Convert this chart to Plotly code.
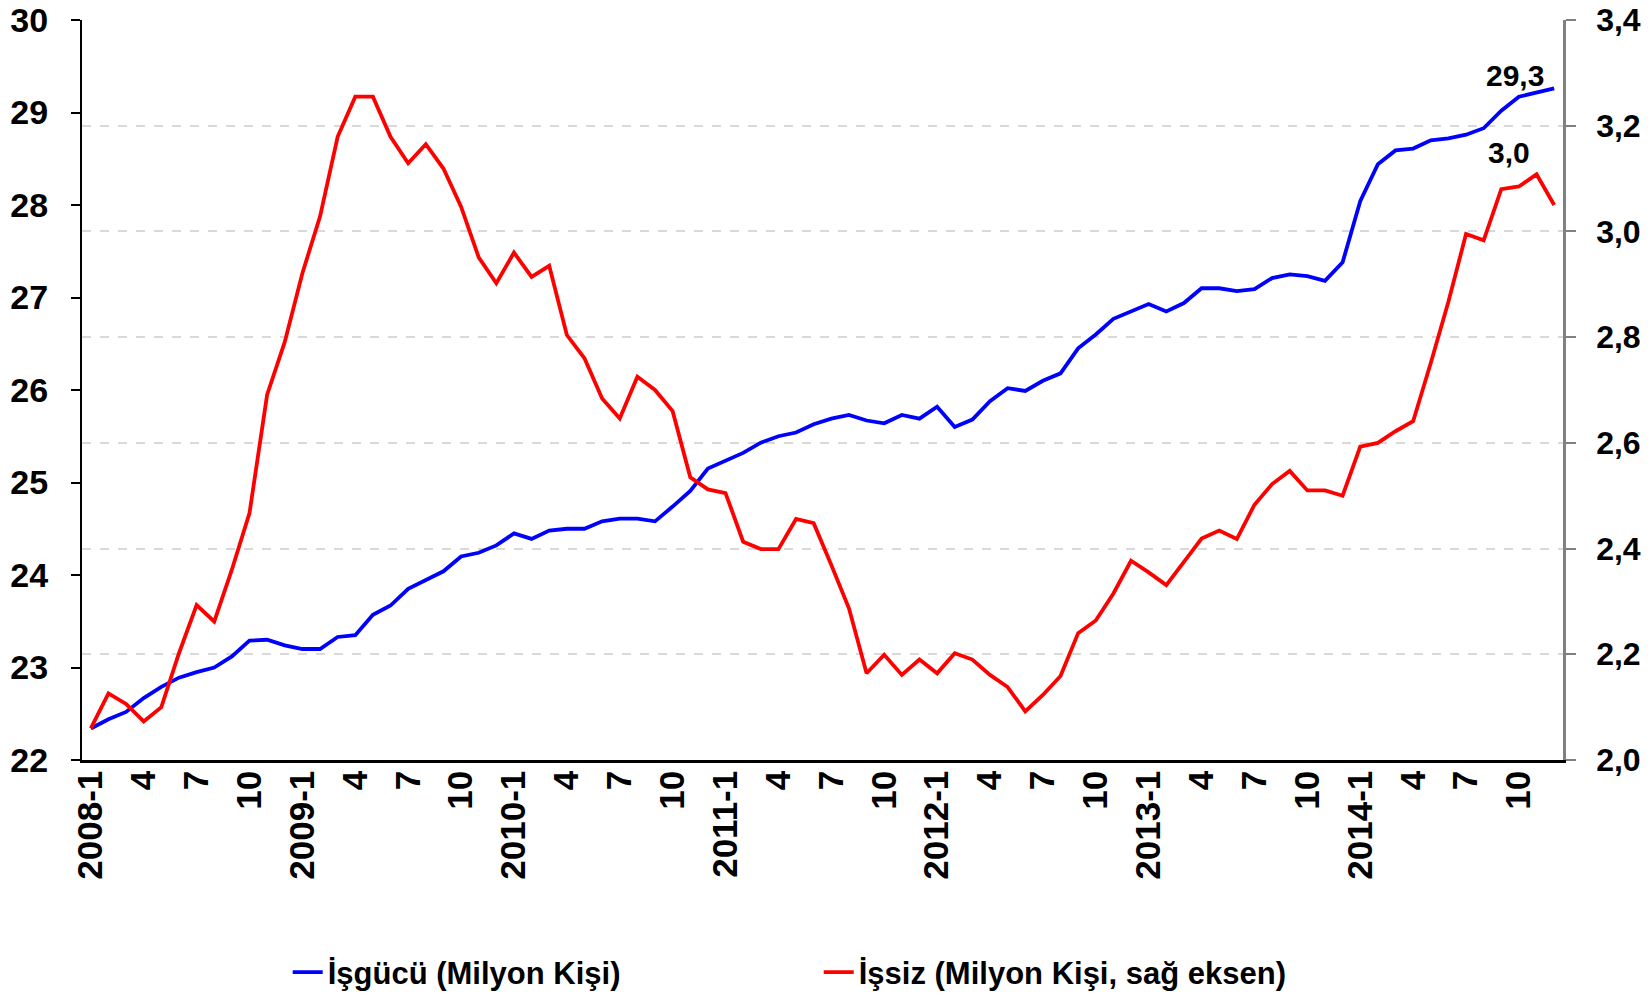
import plotly.graph_objects as go

# 2008-1 .. 2014-12, monthly
months = [f"{y}-{m}" for y in range(2008, 2015) for m in range(1, 13)]

isgucu = [
    22.34, 22.44, 22.52, 22.67, 22.79, 22.89, 22.95, 23.00, 23.12, 23.29, 23.30, 23.24,
    23.20, 23.20, 23.33, 23.35, 23.57, 23.67, 23.85, 23.94, 24.04, 24.20, 24.24, 24.32,
    24.45, 24.39, 24.48, 24.50, 24.50, 24.58, 24.61, 24.61, 24.58, 24.74, 24.91, 25.15,
    25.23, 25.32, 25.43, 25.50, 25.54, 25.63, 25.69, 25.73, 25.67, 25.64, 25.73, 25.69,
    25.82, 25.60, 25.68, 25.88, 26.02, 25.99, 26.10, 26.18, 26.45, 26.60, 26.77, 26.85,
    26.93, 26.85, 26.94, 27.10, 27.10, 27.07, 27.09, 27.21, 27.25, 27.23, 27.18, 27.38,
    28.04, 28.44, 28.59, 28.61, 28.70, 28.72, 28.76, 28.83, 29.02, 29.17, 29.22, 29.26,
]

issiz = [
    2.060, 2.126, 2.106, 2.073, 2.100, 2.202, 2.293, 2.262, 2.360, 2.467, 2.691, 2.791,
    2.921, 3.028, 3.179, 3.255, 3.255, 3.179, 3.129, 3.165, 3.119, 3.047, 2.951, 2.902,
    2.960, 2.914, 2.935, 2.804, 2.760, 2.684, 2.646, 2.725, 2.700, 2.660, 2.535, 2.512,
    2.505, 2.413, 2.399, 2.399, 2.456, 2.448, 2.369, 2.287, 2.164, 2.199, 2.161, 2.190,
    2.164, 2.202, 2.190, 2.161, 2.138, 2.092, 2.123, 2.159, 2.240, 2.264, 2.315, 2.377,
    2.355, 2.331, 2.375, 2.419, 2.434, 2.418, 2.483, 2.522, 2.547, 2.510, 2.510, 2.500,
    2.593, 2.600, 2.622, 2.641, 2.751, 2.867, 2.995, 2.983, 3.080, 3.085, 3.108, 3.050,
]

series_names = ["İşgücü (Milyon Kişi)", "İşsiz (Milyon Kişi, sağ eksen)"]
end_labels = ["29,3", "3,0"]

# x ticks every 3 months: year-1 for January, just the month otherwise
tick_vals = months[::3]
tick_text = [m if m.endswith("-1") else m.split("-")[1] for m in tick_vals]

FONT = "Liberation Sans, Arial, sans-serif"

fig = go.Figure()
fig.add_trace(go.Scatter(x=months, y=isgucu, name=series_names[0], mode="lines",
                         line=dict(color="#0000ff", width=3.8)))
fig.add_trace(go.Scatter(x=months, y=issiz, name=series_names[1], mode="lines",
                         line=dict(color="#ff0000", width=3.8), yaxis="y2"))

fig.add_annotation(x=months[-1], y=isgucu[-1], text=end_labels[0], showarrow=False,
                   xanchor="right", yanchor="bottom", xshift=-8, yshift=-6,
                   font=dict(size=30, color="black", family=FONT, weight="bold"))
fig.add_annotation(x=months[-1], y=issiz[-1], yref="y2", text=end_labels[1], showarrow=False,
                   xanchor="right", yanchor="bottom", xshift=-22, yshift=34,
                   font=dict(size=30, color="black", family=FONT, weight="bold"))

# page body has an 8px margin, so the figure is a bit smaller than the window
fig.update_layout(
    width=1634, height=984,
    margin=dict(l=74, r=79, t=12, b=232, autoexpand=False),
    plot_bgcolor="white", paper_bgcolor="white",
    separators=",.",
    font=dict(family=FONT, size=32, color="black", weight="bold"),
    showlegend=True,
    legend=dict(orientation="h", x=0.1389, y=-0.287, xanchor="left", yanchor="middle",
                font=dict(size=31, family=FONT, weight="bold"),
                entrywidth=486, entrywidthmode="pixels"),
    xaxis=dict(type="category", range=[-0.5, len(months) - 0.5], tickmode="array",
               tickvals=tick_vals, ticktext=tick_text, automargin=False,
               tickangle=-90, showline=True, linecolor="black", linewidth=2.5,
               ticks="", showgrid=False, ticklabelstandoff=-6,
               tickfont=dict(size=35, family=FONT, weight="bold")),
    yaxis=dict(range=[22, 30], dtick=1, showgrid=False, showline=True, linecolor="black",
               linewidth=2, ticks="outside", ticklen=9, tickcolor="black", tickwidth=2,
               ticklabelstandoff=16, zeroline=False, automargin=False,
               ticklabeloverflow="allow",
               tickfont=dict(size=34, family=FONT, weight="bold")),
    yaxis2=dict(range=[2.0, 3.4], dtick=0.2, tickformat=".1f", overlaying="y", side="right",
                showgrid=True, gridcolor="#d9d9d9", griddash="dash", gridwidth=1.5,
                showline=True, linecolor="#808080", linewidth=2.5, ticks="outside",
                ticklen=10, tickcolor="#808080", tickwidth=2, ticklabelstandoff=14,
                zeroline=False, automargin=False, ticklabeloverflow="allow",
                tickfont=dict(size=32, family=FONT, weight="bold")),
)

fig.write_html("out.html")
